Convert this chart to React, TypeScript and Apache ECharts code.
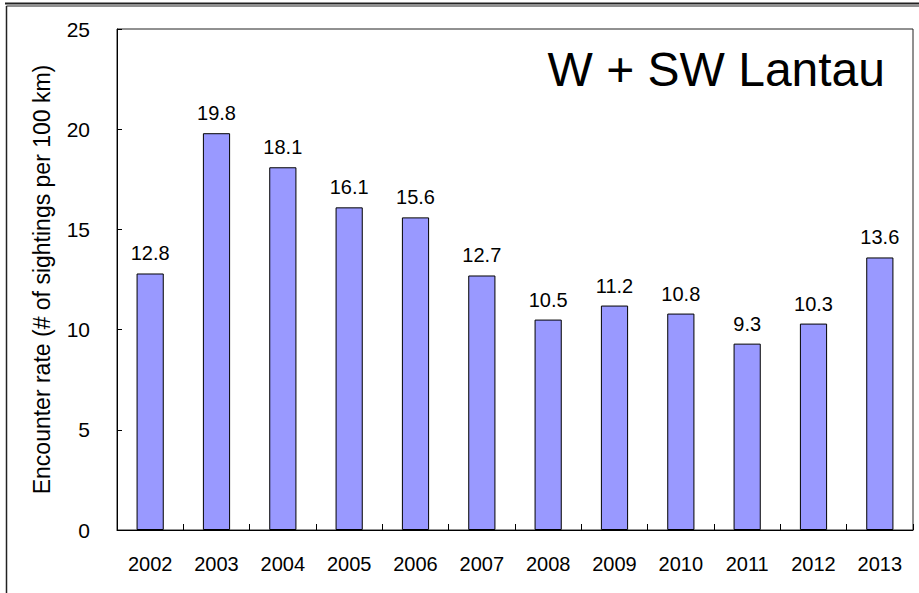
import React, { useEffect, useRef } from "react";
import * as echarts from "echarts";

const years = ["2002", "2003", "2004", "2005", "2006", "2007", "2008", "2009", "2010", "2011", "2012", "2013"];
const encounterRates = [12.8, 19.8, 18.1, 16.1, 15.6, 12.7, 10.5, 11.2, 10.8, 9.3, 10.3, 13.6];
const yTicks = [0, 5, 10, 15, 20, 25];
const chartTitle = "W + SW Lantau";
const yAxisTitle = "Encounter rate (# of sightings per 100 km)";

export default function App() {
  const ref = useRef<HTMLDivElement>(null);
  useEffect(() => {
    if (!ref.current) return;
    const chart = echarts.init(ref.current, null, { renderer: "svg" });
    const font = "Arial, 'Liberation Sans', sans-serif";
    chart.setOption({
      animation: false,
      backgroundColor: "#ffffff",
      textStyle: { fontFamily: font },
      grid: {
        left: 117,
        top: 29,
        right: 6,
        bottom: 63,
        show: true,
        borderColor: "#222",
        borderWidth: 1,
        backgroundColor: "transparent",
      },
      graphic: [
        { type: "line", shape: { x1: 5, y1: 3.5, x2: 919, y2: 3.5 }, style: { stroke: "#222", lineWidth: 2 } },
        { type: "line", shape: { x1: 6.5, y1: 6, x2: 919, y2: 6 }, style: { stroke: "#222", lineWidth: 1 } },
        { type: "line", shape: { x1: 6.5, y1: 6, x2: 6.5, y2: 593 }, style: { stroke: "#222", lineWidth: 1.5 } },
        {
          type: "text",
          right: 34,
          top: 45,
          style: { text: chartTitle, font: `48px ${font}`, fill: "#000" },
        },
      ],
      xAxis: {
        type: "category",
        data: years,
        axisLine: { show: true, lineStyle: { color: "#000", width: 1 } },
        axisTick: { show: true, inside: true, length: 6, lineStyle: { color: "#000" } },
        axisLabel: { color: "#000", fontSize: 20, margin: 24, fontFamily: font },
        splitLine: { show: false },
      },
      yAxis: {
        type: "value",
        min: yTicks[0],
        max: yTicks[yTicks.length - 1],
        interval: 5,
        name: yAxisTitle,
        nameLocation: "middle",
        nameGap: 64,
        nameRotate: 90,
        nameTextStyle: { color: "#000", fontSize: 23, fontFamily: font },
        axisLine: { show: true, lineStyle: { color: "#000", width: 1 } },
        axisTick: { show: true, inside: true, length: 5, lineStyle: { color: "#000" } },
        axisLabel: { color: "#000", fontSize: 21, margin: 27, fontFamily: font },
        splitLine: { show: false },
      },
      series: [
        {
          type: "bar",
          data: encounterRates,
          barWidth: "41%",
          itemStyle: { color: "#9999FF", borderColor: "#000", borderWidth: 1 },
          label: {
            show: true,
            position: "top",
            distance: 10,
            color: "#000",
            fontSize: 20,
            fontFamily: font,
            formatter: (p: any) => p.value.toFixed(1),
          },
        },
      ],
    });
    return () => chart.dispose();
  }, []);
  return <div ref={ref} style={{ position: "absolute", left: 0, top: 0, width: 919, height: 593 }} />;
}
